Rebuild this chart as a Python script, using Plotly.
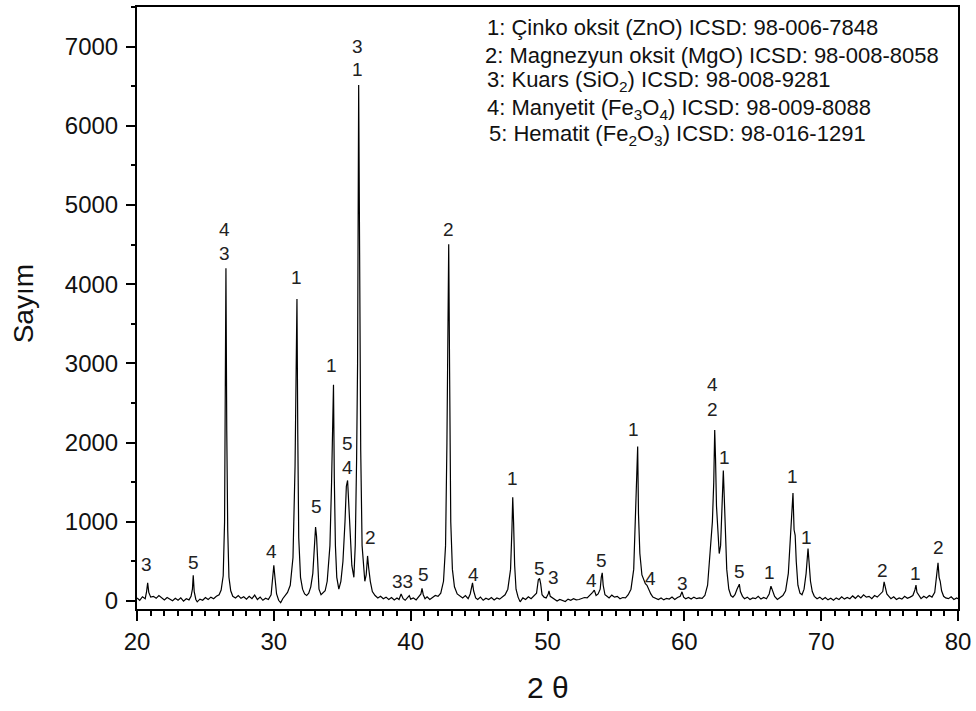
import plotly.graph_objects as go

# ---- XRD scan: (2theta, counts) ----
scan = [
    (20.0, 40), (20.2, 10), (20.4, 55), (20.6, 30),
    (20.7, 120), (20.78, 230), (20.86, 110), (21.0, 50),
    (21.2, 60), (21.4, 35), (21.6, 70), (21.8, 40), (22.0, 15), (22.2, 45), (22.4, 20),
    (22.6, 5), (22.8, 35), (23.0, 10), (23.2, 40), (23.4, 0), (23.6, 30), (23.8, 15), (23.95, 60),
    (24.05, 150), (24.11, 327), (24.18, 120), (24.3, 20),
    (24.4, -10), (24.6, 25), (24.8, 10), (25.0, 45), (25.2, 20), (25.4, 50), (25.6, 30),
    (25.8, 60), (26.0, 80), (26.15, 140), (26.3, 320),
    (26.4, 1000), (26.46, 2500), (26.5, 4203), (26.56, 2150), (26.63, 900), (26.72, 300),
    (26.85, 130), (27.0, 60),
    (27.2, 40), (27.4, 70), (27.6, 35), (27.8, 55), (28.0, 25), (28.2, 60), (28.4, 30),
    (28.6, 75), (28.8, 20), (29.0, 50), (29.2, 10), (29.4, 35), (29.6, 20), (29.8, 80),
    (29.9, 250), (30.0, 453), (30.08, 300), (30.2, 90),
    (30.35, 10), (30.5, -20), (30.65, 30), (30.8, 60), (31.0, 110), (31.2, 200), (31.4, 550),
    (31.55, 1700), (31.63, 3000), (31.69, 3813), (31.75, 2100), (31.82, 800), (31.95, 300), (32.1, 150),
    (32.25, 90), (32.4, 70), (32.55, 100), (32.7, 180), (32.85, 350),
    (32.98, 700), (33.05, 935), (33.12, 820), (33.2, 400), (33.3, 150),
    (33.45, 80), (33.6, 110), (33.75, 130), (33.9, 250), (34.1, 700),
    (34.22, 1500), (34.3, 2400), (34.36, 2731), (34.42, 1550), (34.5, 700), (34.6, 300),
    (34.75, 150), (34.9, 250), (35.05, 500), (35.2, 1000),
    (35.3, 1450), (35.39, 1523), (35.46, 1300), (35.55, 900), (35.7, 450), (35.85, 300),
    (35.95, 700), (36.05, 1800), (36.12, 3000), (36.2, 6514), (36.27, 4000), (36.35, 1900),
    (36.45, 700), (36.55, 400), (36.65, 250), (36.75, 330),
    (36.85, 570), (36.93, 420), (37.05, 250), (37.2, 120), (37.4, 70),
    (37.6, 40), (37.8, 60), (38.0, 30), (38.2, 50), (38.4, 20), (38.6, 45), (38.8, 15),
    (39.0, 40), (39.15, 20), (39.3, 90), (39.45, 30), (39.6, 10), (39.8, 50), (39.9, 70),
    (40.0, 25), (40.2, 40), (40.4, 15), (40.6, 55), (40.75, 90),
    (40.83, 160), (40.92, 80), (41.05, 30),
    (41.2, 55), (41.4, 20), (41.6, 40), (41.8, 70), (42.0, 60), (42.2, 100), (42.4, 250), (42.55, 700),
    (42.65, 2000), (42.72, 3500), (42.78, 4505), (42.85, 2800), (42.93, 1000), (43.05, 400),
    (43.2, 180), (43.4, 90),
    (43.6, 60), (43.8, 40), (44.0, 70), (44.2, 30), (44.35, 90),
    (44.45, 200), (44.52, 230), (44.6, 130), (44.75, 40),
    (44.9, 20), (45.1, 50), (45.3, 10), (45.5, 35), (45.7, 20), (45.9, 45), (46.1, 15),
    (46.3, 40), (46.5, 25), (46.7, 50), (46.9, 80), (47.1, 150), (47.3, 400),
    (47.4, 900), (47.46, 1312), (47.52, 1000), (47.6, 450), (47.7, 150), (47.85, 50),
    (48.0, -10), (48.2, 40), (48.4, 20), (48.6, 55), (48.8, 30), (49.0, 60), (49.2, 100),
    (49.33, 270), (49.42, 285), (49.5, 220), (49.6, 80),
    (49.75, 50), (49.9, 40), (50.05, 90), (50.11, 130), (50.2, 60), (50.35, 40),
    (50.5, 20), (50.7, 0), (50.9, 20), (51.1, 10), (51.3, -5), (51.5, 25), (51.7, 10),
    (51.9, 30), (52.1, 15), (52.3, 20), (52.5, 30), (52.7, 45), (52.9, 40), (53.1, 70),
    (53.3, 110), (53.42, 138), (53.55, 70), (53.7, 90), (53.85, 150),
    (53.93, 300), (54.0, 356), (54.07, 200), (54.2, 80), (54.35, 60),
    (54.5, 40), (54.7, 75), (54.9, 50), (55.1, 60), (55.3, 30), (55.5, 45), (55.7, 40),
    (55.9, 80), (56.1, 150), (56.3, 400),
    (56.43, 1000), (56.52, 1500), (56.59, 1950), (56.65, 1100), (56.75, 600), (56.9, 330),
    (57.05, 260), (57.15, 220), (57.27, 200), (57.4, 140), (57.55, 90),
    (57.7, 50), (57.9, 30), (58.1, 20), (58.3, 40), (58.5, 15), (58.7, 35), (58.9, 25),
    (59.1, 50), (59.3, 20), (59.5, 45), (59.7, 60), (59.83, 117), (59.95, 50), (60.1, 30),
    (60.3, 45), (60.5, 25), (60.7, 50), (60.9, 30), (61.1, 40), (61.3, 35), (61.5, 70),
    (61.7, 200), (61.9, 700),
    (62.05, 1000), (62.15, 1500), (62.22, 2160), (62.28, 1800), (62.35, 1200), (62.45, 900),
    (62.55, 600), (62.65, 700), (62.75, 1100), (62.85, 1648), (62.92, 1300), (63.0, 900),
    (63.1, 400), (63.25, 150),
    (63.4, 70), (63.55, 50), (63.7, 80), (63.85, 150),
    (63.95, 200), (64.02, 214), (64.1, 120), (64.25, 60),
    (64.4, 30), (64.6, 50), (64.8, 20), (65.0, 40), (65.2, 30), (65.4, 60), (65.6, 25),
    (65.8, 45), (66.0, 30), (66.2, 90), (66.33, 189), (66.45, 120), (66.6, 60), (66.8, 20),
    (67.0, 40), (67.2, 70), (67.4, 130), (67.6, 350),
    (67.75, 800), (67.85, 1150), (67.94, 1363), (68.02, 900), (68.1, 830), (68.18, 500),
    (68.3, 200), (68.45, 100),
    (68.6, 80), (68.75, 150), (68.9, 350), (69.04, 663), (69.12, 450), (69.22, 250),
    (69.35, 120), (69.5, 60),
    (69.7, 30), (69.9, 50), (70.1, 20), (70.3, 45), (70.5, 15), (70.7, 35), (70.9, 10),
    (71.1, 40), (71.3, 20), (71.5, 55), (71.7, 25), (71.9, 45), (72.1, 30), (72.3, 65),
    (72.5, 35), (72.7, 70), (72.9, 40), (73.1, 80), (73.3, 50), (73.5, 60), (73.7, 30),
    (73.9, 70), (74.1, 50), (74.3, 90), (74.5, 120),
    (74.6, 243), (74.7, 160), (74.8, 90),
    (74.95, 60), (75.1, 30), (75.3, 55), (75.5, 20), (75.7, 40), (75.9, 25), (76.1, 60),
    (76.3, 35), (76.5, 50), (76.7, 70), (76.85, 140), (76.93, 201), (77.0, 110), (77.15, 60),
    (77.3, 30), (77.5, 60), (77.7, 40), (77.9, 70), (78.1, 50), (78.3, 110),
    (78.45, 300), (78.54, 482), (78.62, 300), (78.7, 250), (78.8, 130), (78.95, 60),
    (79.1, 40), (79.3, 30), (79.5, 55), (79.7, 20), (79.9, 40), (80.0, 30),
]
two_theta = [p[0] for p in scan]
counts = [p[1] for p in scan]

# ---- phase labels above peaks ----
label_x = [20.73, 24.11, 26.42, 26.42, 29.81, 31.62, 33.10, 34.25, 35.35, 35.35,
           36.08, 36.12, 37.10, 39.39, 40.92, 42.77, 44.58, 47.43, 49.40, 50.43,
           53.20, 53.98, 56.27, 57.56, 59.83, 62.05, 62.05, 62.92, 64.02, 66.21,
           67.94, 68.91, 74.47, 76.93, 78.54]
label_y = [466, 491, 4694, 4392, 629, 4081, 1195, 2970, 1988, 1686,
           6996, 6707, 805, 252, 340, 4694, 340, 1548, 415, 302,
           264, 516, 2164, 289, 226, 2731, 2416, 1812, 377, 365,
           1573, 805, 390, 352, 680]
label_text = ["3", "5", "4", "3", "4", "1", "5", "1", "5", "4",
              "3", "1", "2", "33", "5", "2", "4", "1", "5", "3",
              "4", "5", "1", "4", "3", "4", "2", "1", "5", "1",
              "1", "1", "2", "1", "2"]

# ---- phase list ----
phase_lines = [
    "1: Çinko oksit (ZnO) ICSD: 98-006-7848",
    "2: Magnezyun oksit (MgO) ICSD: 98-008-8058",
    "3: Kuars (SiO<sub>2</sub>) ICSD: 98-008-9281",
    "4: Manyetit (Fe<sub>3</sub>O<sub>4</sub>) ICSD: 98-009-8088",
    "5: Hematit (Fe<sub>2</sub>O<sub>3</sub>) ICSD: 98-016-1291",
]
phase_x = [45.45, 45.31, 45.45, 45.45, 45.60]
phase_y = [7240, 6890, 6568, 6215, 5890]

x_range = [20, 80]
y_range = [-100, 7500]

FONT = "Arial, Liberation Sans, sans-serif"

fig = go.Figure()
fig.add_trace(go.Scatter(x=two_theta, y=counts, mode="lines",
                         line=dict(color="black", width=1.2), showlegend=False,
                         hoverinfo="skip"))

annotations = []
for lx, ly, lt in zip(label_x, label_y, label_text):
    annotations.append(dict(x=lx, y=ly, text=lt, showarrow=False, xref="x", yref="y",
                            font=dict(family=FONT, size=19, color="#222"),
                            xanchor="center", yanchor="middle"))
for px, py, pt in zip(phase_x, phase_y, phase_lines):
    annotations.append(dict(x=px, y=py, text=pt, showarrow=False, xref="x", yref="y",
                            font=dict(family=FONT, size=22, color="#111"),
                            xanchor="left", yanchor="middle"))
annotations.append(dict(x=-0.1385, y=0.5066, xref="paper", yref="paper", text="Sayım",
                        textangle=-90, showarrow=False,
                        font=dict(family=FONT, size=28, color="#111"),
                        xanchor="center", yanchor="middle"))
annotations.append(dict(x=0.501, y=-0.1308, xref="paper", yref="paper", text="2 θ",
                        showarrow=False, font=dict(family=FONT, size=30, color="#111"),
                        xanchor="center", yanchor="middle"))

fig.update_layout(
    width=976, height=711,
    margin=dict(l=137, r=18, t=5, b=102),
    paper_bgcolor="white", plot_bgcolor="white",
    font=dict(family=FONT, color="#111"),
    annotations=annotations,
    xaxis=dict(range=x_range, dtick=10, tick0=20, showgrid=False, zeroline=False,
               showline=True, linecolor="black", linewidth=2, mirror=True,
               ticks="outside", ticklen=10, tickwidth=2, tickcolor="black",
               tickfont=dict(family=FONT, size=24, color="#111"),
               minor=dict(dtick=1, ticks="outside", ticklen=5, tickwidth=2, tickcolor="black")),
    yaxis=dict(range=y_range, dtick=1000, tick0=0, showgrid=False, zeroline=False,
               showline=True, linecolor="black", linewidth=2, mirror=True,
               ticks="outside", ticklen=9, tickwidth=2, tickcolor="black",
               ticklabelstandoff=3,
               tickfont=dict(family=FONT, size=24, color="#111"),
               minor=dict(dtick=500, ticks="outside", ticklen=4, tickwidth=2, tickcolor="black")),
)

fig.write_html("out.html")
